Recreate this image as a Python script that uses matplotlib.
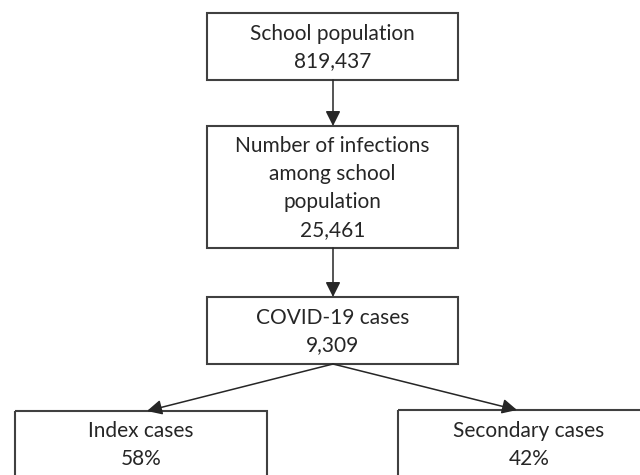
import matplotlib
matplotlib.use("Agg")
import matplotlib.pyplot as plt
from matplotlib.patches import Rectangle, FancyArrowPatch

# Data
box_titles = ["School population", "Number of infections\namong school\npopulation", "COVID-19 cases", "Index cases", "Secondary cases"]
box_values = ["819,437", "25,461", "9,309", "58%", "42%"]

# Layout (pixel coordinates: x0, y0, x1, y1)
boxes = [
    (207, 13, 458, 80),
    (207, 126, 458, 248),
    (207, 297, 458, 364),
    (15, 411, 267, 490),
    (398, 410, 660, 490),
]
text_centers = [None, None, None, 444, 444]

edge = "#404040"
txt = "#262626"

fig = plt.figure(figsize=(6.4, 4.75), dpi=100)
ax = fig.add_axes([0, 0, 1, 1])
ax.set_xlim(0, 640)
ax.set_ylim(475, 0)
ax.axis("off")

for i, (x0, y0, x1, y1) in enumerate(boxes):
    ax.add_patch(Rectangle((x0, y0), x1 - x0, y1 - y0, fill=False, ec=edge, lw=1.5))
    cx = (x0 + x1) / 2
    cy = text_centers[i] if text_centers[i] is not None else (y0 + y1) / 2
    ax.text(cx, cy + 1, box_titles[i] + "\n" + box_values[i], ha="center", va="center",
            fontsize=15, family="Lato", color=txt, linespacing=1.5)

def arrow(p0, p1):
    ax.add_patch(FancyArrowPatch(p0, p1, arrowstyle="-|>,head_length=6,head_width=3",
                                 mutation_scale=1.5, color="#262626", lw=1.1,
                                 shrinkA=0, shrinkB=0))

arrow((333, 80), (333, 126))
arrow((333, 248), (333, 297))
arrow((333, 364), (147, 411))
arrow((333, 364), (517, 410))

fig.savefig("out.png", dpi=100)
